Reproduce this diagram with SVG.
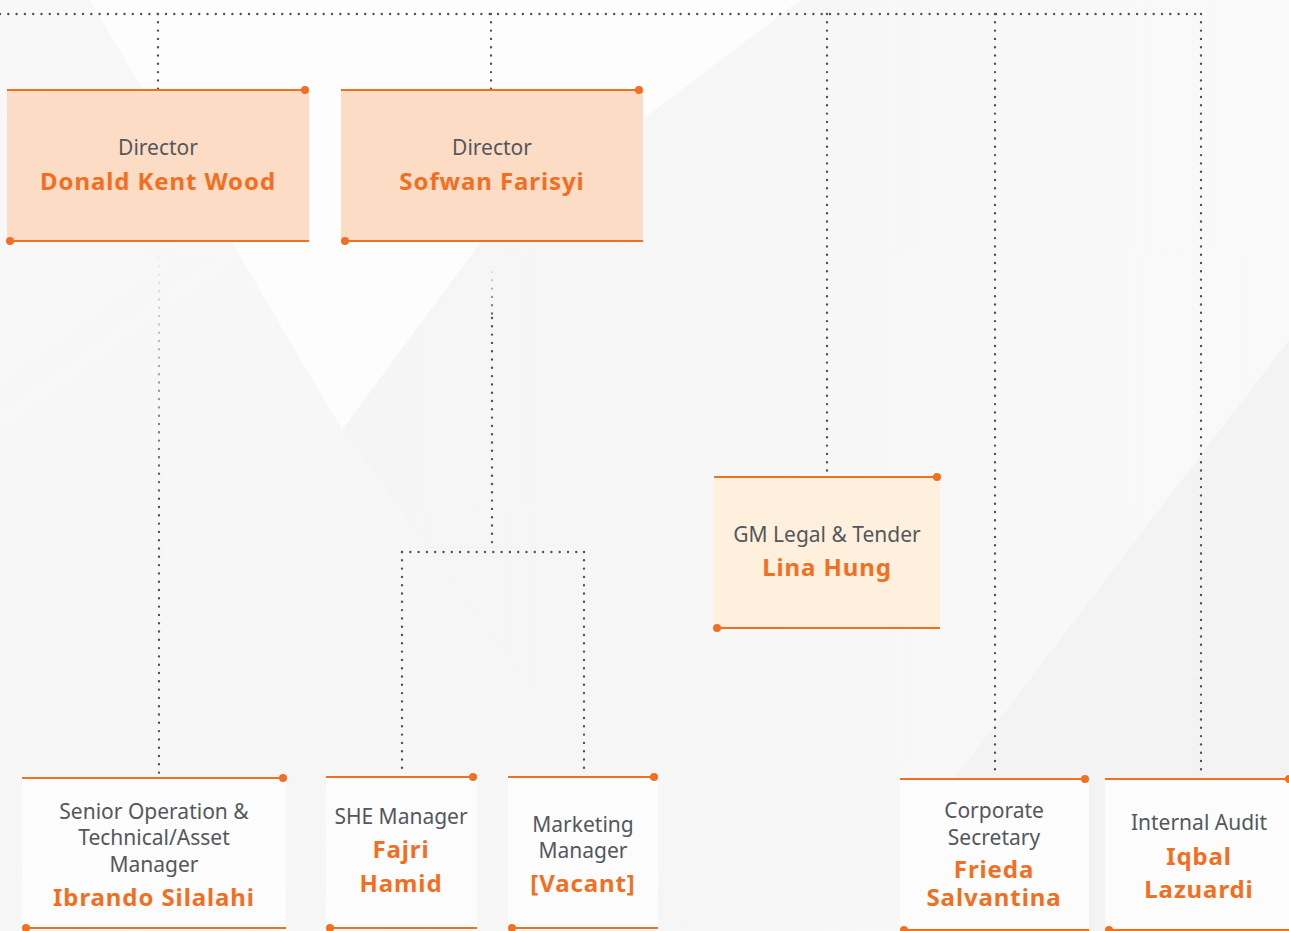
<svg xmlns="http://www.w3.org/2000/svg" width="1289" height="931" viewBox="0 0 1289 931">
<style>
.dot{fill:none;stroke:#505257;stroke-width:2.4;stroke-linecap:round;stroke-dasharray:0 8.3}
.ol{stroke:#f26f21;stroke-width:2.2;fill:none}
.od{fill:#f26f21}
.t{font-family:"Noto Sans","Liberation Sans",sans-serif;font-size:21px;fill:#55575c;text-anchor:middle}
.n{font-family:"Noto Sans","Liberation Sans",sans-serif;font-size:24px;font-weight:700;fill:#f26f21;text-anchor:middle;letter-spacing:0.9px}
.dir{fill:#fddcc5}
.gm{fill:#fef0dc}
.low{fill:#fcfcfc}
</style>
<defs>
<linearGradient id="bg" x1="0" y1="0" x2="1" y2="1">
<stop offset="0" stop-color="#f8f8f9"/>
<stop offset="1" stop-color="#f5f5f6"/>
</linearGradient>
<linearGradient id="gr" x1="0" y1="0" x2="1" y2="0">
<stop offset="0" stop-color="#f5f5f6"/>
<stop offset="1" stop-color="#f9f9fa"/>
</linearGradient>
<linearGradient id="fadeA" x1="0" y1="258" x2="0" y2="500" gradientUnits="userSpaceOnUse">
<stop offset="0" stop-color="#505257" stop-opacity="0.05"/>
<stop offset="1" stop-color="#505257" stop-opacity="1"/>
</linearGradient>
<linearGradient id="fadeB" x1="0" y1="272" x2="0" y2="320" gradientUnits="userSpaceOnUse">
<stop offset="0" stop-color="#505257" stop-opacity="0.1"/>
<stop offset="1" stop-color="#505257" stop-opacity="1"/>
</linearGradient>
</defs>
<g id="background">
<rect x="0" y="0" width="1289" height="931" fill="url(#bg)"/>
<polygon points="800,0 1289,0 1289,931 700,931 342,430 480,243" fill="url(#gr)"/>
<polygon points="90,0 800,0 480,243 342,430" fill="#fdfdfd"/>
<polygon points="1123,557 1289,340 1289,931 1040,931 953,780" fill="#f3f3f4"/>
</g>
<g id="connectors">
<path class="dot" d="M0 14 H1202"/>
<path class="dot" d="M158 14 V89"/>
<path class="dot" d="M491 14 V89"/>
<path class="dot" d="M827 14 V474"/>
<path class="dot" d="M995 14 V776"/>
<path class="dot" d="M1201 14 V776"/>
<path class="dot" d="M159 258 V775" style="stroke:url(#fadeA)"/>
<path class="dot" d="M492 272 V318" style="stroke:url(#fadeB)"/>
<path class="dot" d="M492 318 V545"/>
<path class="dot" d="M402 552 H584"/>
<path class="dot" d="M402 552 V773"/>
<path class="dot" d="M584 552 V773"/>
</g>
<g id="node-donald">
<rect class="dir" x="7" y="90" width="302" height="151"/>
<line class="ol" x1="7" y1="90" x2="305" y2="90"/><circle class="od" cx="305" cy="90" r="4"/>
<line class="ol" x1="10" y1="241" x2="309" y2="241"/><circle class="od" cx="10" cy="241" r="4"/>
<text class="t" x="158" y="155">Director</text>
<text class="n" x="158" y="190">Donald Kent Wood</text>
</g>
<g id="node-sofwan">
<rect class="dir" x="341" y="90" width="302" height="151"/>
<line class="ol" x1="341" y1="90" x2="639" y2="90"/><circle class="od" cx="639" cy="90" r="4"/>
<line class="ol" x1="345" y1="241" x2="643" y2="241"/><circle class="od" cx="345" cy="241" r="4"/>
<text class="t" x="492" y="155">Director</text>
<text class="n" x="492" y="190">Sofwan Farisyi</text>
</g>
<g id="node-lina">
<rect class="gm" x="714" y="477" width="226" height="151"/>
<line class="ol" x1="714" y1="477" x2="937" y2="477"/><circle class="od" cx="937" cy="477" r="4"/>
<line class="ol" x1="717" y1="628" x2="940" y2="628"/><circle class="od" cx="717" cy="628" r="4"/>
<text class="t" x="827" y="542">GM Legal &amp; Tender</text>
<text class="n" x="827" y="576">Lina Hung</text>
</g>
<g id="node-ibrando">
<rect class="low" x="22" y="778" width="264" height="150"/>
<line class="ol" x1="22" y1="778" x2="283" y2="778"/><circle class="od" cx="283" cy="778" r="4"/>
<line class="ol" x1="26" y1="928" x2="286" y2="928"/><circle class="od" cx="26" cy="928" r="4"/>
<text class="t" x="154" y="819">Senior Operation &amp;</text>
<text class="t" x="154" y="845">Technical/Asset</text>
<text class="t" x="154" y="872">Manager</text>
<text class="n" x="154" y="906">Ibrando Silalahi</text>
</g>
<g id="node-fajri">
<rect class="low" x="326" y="777" width="151" height="151"/>
<line class="ol" x1="326" y1="777" x2="473" y2="777"/><circle class="od" cx="473" cy="777" r="4"/>
<line class="ol" x1="330" y1="928" x2="477" y2="928"/><circle class="od" cx="330" cy="928" r="4"/>
<text class="t" x="401" y="824">SHE Manager</text>
<text class="n" x="401" y="858">Fajri</text>
<text class="n" x="401" y="892">Hamid</text>
</g>
<g id="node-marketing">
<rect class="low" x="508" y="777" width="150" height="151"/>
<line class="ol" x1="508" y1="777" x2="654" y2="777"/><circle class="od" cx="654" cy="777" r="4"/>
<line class="ol" x1="512" y1="928" x2="658" y2="928"/><circle class="od" cx="512" cy="928" r="4"/>
<text class="t" x="583" y="832">Marketing</text>
<text class="t" x="583" y="858">Manager</text>
<text class="n" x="583" y="892">[Vacant]</text>
</g>
<g id="node-frieda">
<rect class="low" x="900" y="779" width="189" height="152"/>
<line class="ol" x1="900" y1="779" x2="1085" y2="779"/><circle class="od" cx="1085" cy="779" r="4"/>
<line class="ol" x1="904" y1="930" x2="1089" y2="930"/><circle class="od" cx="904" cy="930" r="4"/>
<text class="t" x="994" y="818">Corporate</text>
<text class="t" x="994" y="845">Secretary</text>
<text class="n" x="994" y="878">Frieda</text>
<text class="n" x="994" y="906">Salvantina</text>
</g>
<g id="node-iqbal">
<rect class="low" x="1105" y="779" width="184" height="152"/>
<line class="ol" x1="1105" y1="779" x2="1289" y2="779"/><circle class="od" cx="1289" cy="779" r="4"/>
<line class="ol" x1="1109" y1="930" x2="1289" y2="930"/><circle class="od" cx="1109" cy="930" r="4"/>
<text class="t" x="1199" y="830">Internal Audit</text>
<text class="n" x="1199" y="865">Iqbal</text>
<text class="n" x="1199" y="898">Lazuardi</text>
</g>
</svg>
